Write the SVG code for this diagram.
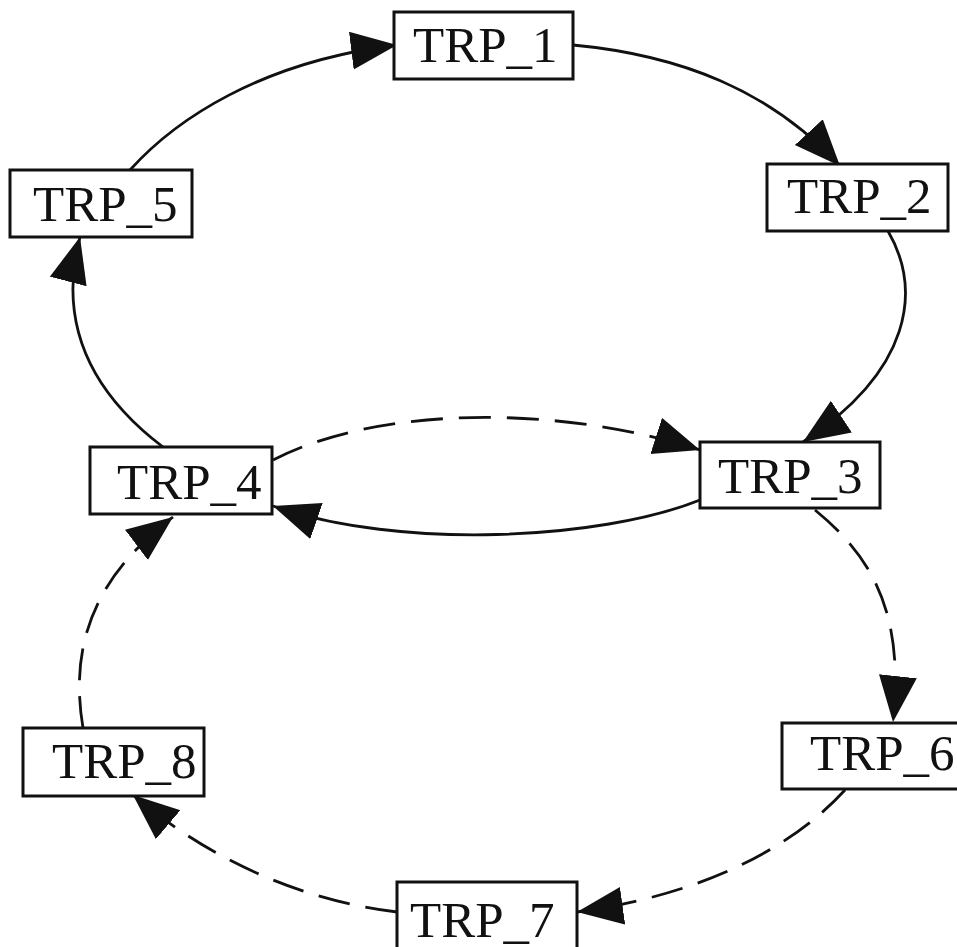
<svg xmlns="http://www.w3.org/2000/svg" width="957" height="947" viewBox="0 0 957 947">
<style>
.box{fill:#fff;stroke:#111;stroke-width:3}
.lbl{font-family:"Liberation Serif","Times New Roman",serif;font-size:51px;fill:#111}
.e{fill:none;stroke:#111;stroke-width:2.8}
.d{stroke-dasharray:32,16}
</style>
<defs>
<marker id="ah" markerUnits="userSpaceOnUse" markerWidth="48" markerHeight="40" refX="46" refY="19" orient="auto">
<path d="M0,0 L46,19 L0,38 z" fill="#111"/>
</marker>
</defs>
<rect width="957" height="947" fill="#fff"/>
<g id="edges">
<path class="e" d="M130,170 C175,120 260,62 397,45" marker-end="url(#ah)"/>
<path class="e" d="M573,45 C680,55 770,90 840,166" marker-end="url(#ah)"/>
<path class="e" d="M888,231 C922,290 912,370 803,442" marker-end="url(#ah)"/>
<path class="e" d="M163,447 C88,390 58,320 80,237" marker-end="url(#ah)"/>
<path class="e d" d="M273,460 C380,405 560,405 700,450" marker-end="url(#ah)"/>
<path class="e" d="M700,500 C600,540 400,550 273,506" marker-end="url(#ah)"/>
<path class="e d" d="M815,510 C870,555 905,610 893,722" marker-end="url(#ah)"/>
<path class="e d" d="M845,790 C790,850 700,895 577,912" marker-end="url(#ah)"/>
<path class="e d" d="M397,912 C300,900 210,860 133,795" marker-end="url(#ah)"/>
<path class="e d" d="M83,728 C70,650 90,580 173,517" marker-end="url(#ah)"/>
</g>
<g id="TRP_1"><rect class="box" x="394" y="12" width="179" height="67"/><text class="lbl" x="413" y="62">TRP_1</text></g>
<g id="TRP_2"><rect class="box" x="767" y="164" width="181" height="67"/><text class="lbl" x="787" y="213">TRP_2</text></g>
<g id="TRP_5"><rect class="box" x="10" y="170" width="182" height="67"/><text class="lbl" x="33" y="221">TRP_5</text></g>
<g id="TRP_4"><rect class="box" x="90" y="447" width="182" height="67"/><text class="lbl" x="117" y="499">TRP_4</text></g>
<g id="TRP_3"><rect class="box" x="700" y="442" width="180" height="66"/><text class="lbl" x="718" y="493">TRP_3</text></g>
<g id="TRP_6"><rect class="box" x="782" y="723" width="185" height="66"/><text class="lbl" x="810" y="770">TRP_6</text></g>
<g id="TRP_8"><rect class="box" x="23" y="728" width="181" height="68"/><text class="lbl" x="52" y="778">TRP_8</text></g>
<g id="TRP_7"><rect class="box" x="397" y="882" width="180" height="70"/><text class="lbl" x="410" y="937">TRP_7</text></g>
</svg>
